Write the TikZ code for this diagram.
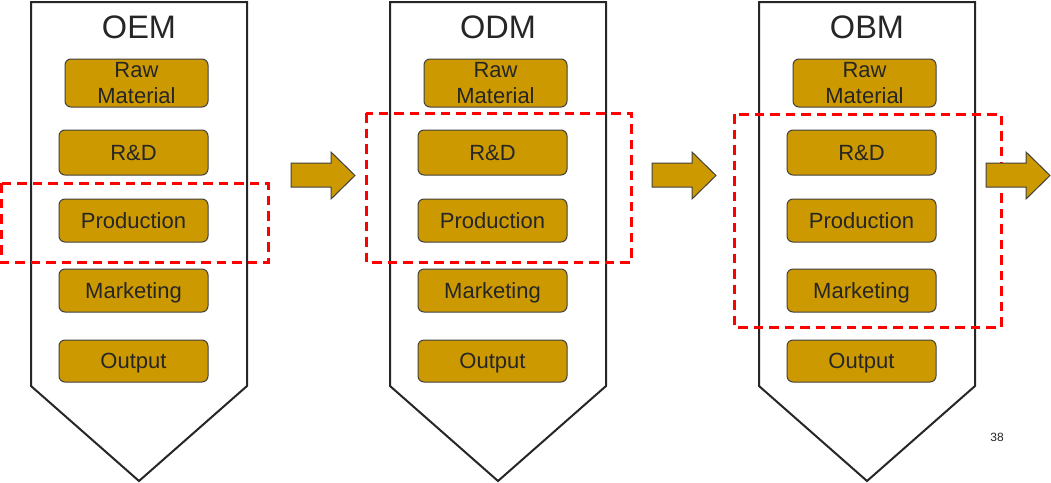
\documentclass[tikz,border=0pt]{standalone}
\usepackage{fontspec}
\setmainfont{Liberation Sans}
\usepackage{tikz}
\usetikzlibrary{positioning}

\definecolor{gold}{RGB}{204,153,0}
\definecolor{ink}{RGB}{38,38,38}
\definecolor{frame}{RGB}{64,64,64}

\tikzset{
  stage/.style={draw=ink, line width=2pt, fill=white},
  stagetitle/.style={text=ink, font=\fontsize{32.5}{38}\selectfont,
    inner sep=0pt, text depth=0pt},
  task/.style={draw=frame, line width=1pt, fill=gold, rounded corners=6pt,
    text=ink, font=\fontsize{22}{26}\selectfont, align=center, inner sep=0pt,
    text depth=0pt, minimum width=149pt, minimum height=43pt},
  scopebox/.style={draw=red, line width=3pt, dash pattern=on 9.5pt off 6pt},
  blockarrow/.style={draw=frame, line width=1pt, fill=gold}
}

\begin{document}
\begin{tikzpicture}[x=1pt,y=-1pt]
\useasboundingbox (0,0) rectangle (1051,482);
\foreach \name/\lx/\title in {oem/31/OEM, odm/390/ODM, obm/759/OBM} {
  \draw [stage] (\lx,2) -- ++(216,0) -- ++(0,384) -- ++(-108,95)
    -- ++(-108,-95) -- cycle;
  \node [stagetitle] (\name) at (\lx+108,27) {\title};
  \node [task, minimum width=143pt, minimum height=48pt] (\name-raw)
    at (\lx+105.5,83) {Raw\\Material};
  \node [task, minimum height=45pt] (\name-rd) at (\lx+102.5,152.5) {R\&D};
  \node [task] (\name-prod) at (\lx+102.5,220.5) {Production};
  \node [task] (\name-mkt) at (\lx+102.5,290.5) {Marketing};
  \node [task, minimum height=42pt] (\name-out) at (\lx+102.5,361) {Output};
}
\draw [scopebox] (1,183) rectangle (268,262);
\draw [scopebox] (366,113) rectangle (631,262);
\draw [scopebox] (734,114) rectangle (1001,327);
\foreach \ax in {291,652,986}
  \filldraw [blockarrow] (\ax,163) -- ++(40,0) -- ++(0,-11) -- ++(24,23.5)
    -- ++(-24,23.5) -- ++(0,-12) -- ++(-40,0) -- cycle;
\node [text=ink, font=\fontsize{12}{14}\selectfont, inner sep=0pt] (page)
  at (997,437) {38};
\end{tikzpicture}
\end{document}
